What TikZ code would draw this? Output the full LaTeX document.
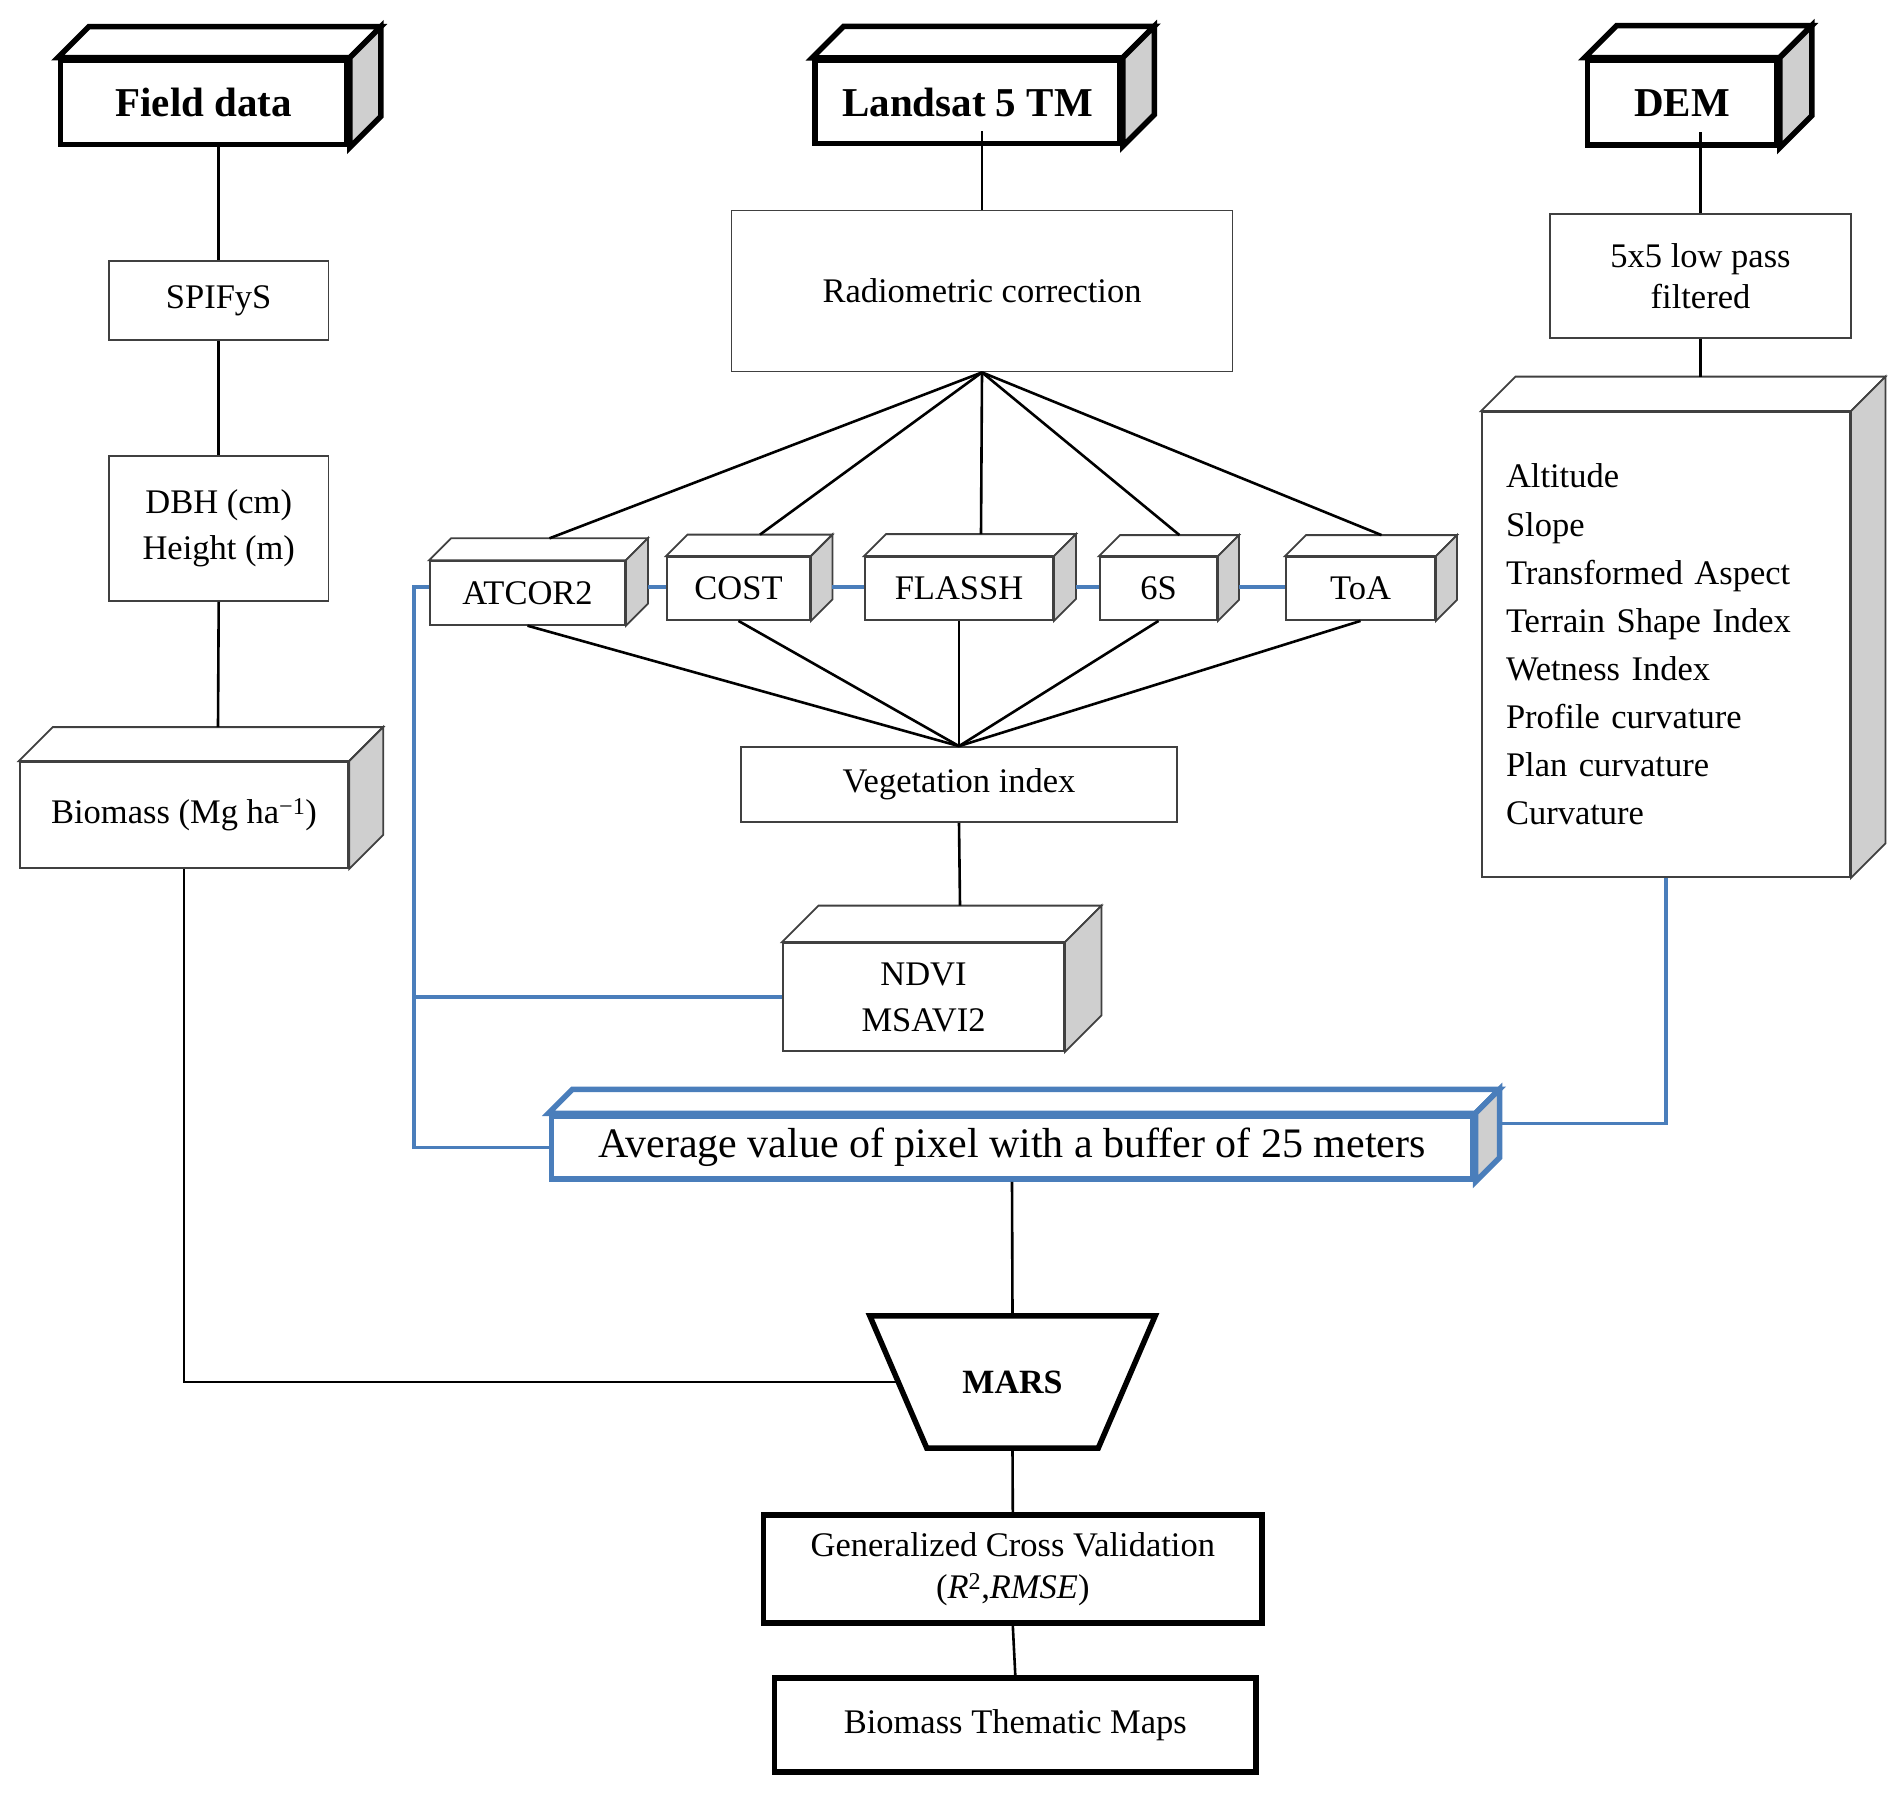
\documentclass[tikz,border=0pt]{standalone}
\usepackage{fontspec}
\setmainfont{Liberation Serif}
\usetikzlibrary{calc}
\definecolor{sideg}{HTML}{CFCFCF}
\definecolor{bl}{HTML}{4A7EBB}
\definecolor{bordg}{HTML}{404040}
\tikzset{
  thinline/.style={draw=bordg, line width=1.8pt},
  thickline/.style={draw=black, line width=5.5pt},
  blueline/.style={draw=bl, line width=5.5pt},
  thin box/.style={thinline, fill=white, inner sep=0pt, align=center, font=\fontsize{34.5}{46}\selectfont},
  thick box/.style={thickline, fill=white, inner sep=0pt, align=center, font=\fontsize{41}{48}\selectfont\bfseries},
  conn/.style={draw=black, line width=2.6pt},
  blueconn/.style={draw=bl, line width=3.6pt},
}
\newcommand{\cubefaces}[3]{%
  \draw[#3, fill=white] (#1.north west) -- ++(#2,-#2) -- ([shift={(#2,-#2)}]#1.north east) -- (#1.north east) -- cycle;
  \draw[#3, fill=sideg] (#1.north east) -- ([shift={(#2,-#2)}]#1.north east) -- ([shift={(#2,-#2)}]#1.south east) -- (#1.south east) -- cycle;
  \coordinate (#1top) at ([shift={(#2,-#2)}]#1.north);
  \coordinate (#1back) at ([shift={(#2,-#2)}]#1.east);
}
\begin{document}
\begin{tikzpicture}[x=1pt, y=-1pt]
\useasboundingbox (0,0) rectangle (1901,1797);
\fill[white] (0,0) rectangle (1901,1797);

% headers
\node[thick box, minimum width=286.5pt, minimum height=84.3pt] (field) at (203.8,102.5) {Field data};
\cubefaces{field}{31}{thickline}
\node[thick box, minimum width=305pt, minimum height=83pt] (landsat) at (967.5,102) {Landsat 5 TM};
\cubefaces{landsat}{31.5}{thickline}
\node[thick box, minimum width=189.6pt, minimum height=84.7pt] (dem) at (1682.2,102.7) {DEM};
\cubefaces{dem}{32}{thickline}

% left column
\node[thin box, minimum width=219.5pt, minimum height=79pt] (spify) at (218.7,300.5) {SPIFyS};
\node[thin box, minimum width=219.5pt, minimum height=145pt] (dbh) at (218.7,528.5) {DBH (cm)\\Height (m)};
\node[thin box, minimum width=328.5pt, minimum height=106pt] (bio) at (184,815) {Biomass (Mg ha\textsuperscript{−1})};
\cubefaces{bio}{34}{thinline}

% middle column
\node[thin box, minimum width=501pt, minimum height=161pt] (radio) at (982,291) {Radiometric correction};
\node[thin box, minimum width=195pt, minimum height=63.6pt] (atcor) at (527.5,593) {ATCOR2};
\cubefaces{atcor}{22}{thinline}
\node[thin box, minimum width=143pt, minimum height=63pt] (cost) at (738.5,588.5) {COST};
\cubefaces{cost}{21.5}{thinline}
\node[thin box, minimum width=188pt, minimum height=63pt] (flassh) at (959,588.5) {FLASSH};
\cubefaces{flassh}{22}{thinline}
\node[thin box, minimum width=117pt, minimum height=63pt] (six) at (1158.5,588.5) {6S};
\cubefaces{six}{21}{thinline}
\node[thin box, minimum width=149pt, minimum height=63pt] (toa) at (1360.5,588.5) {ToA};
\cubefaces{toa}{21}{thinline}
\node[thin box, minimum width=436.5pt, minimum height=75pt] (veg) at (959,784.5) {Vegetation index};
\node[thin box, minimum width=281pt, minimum height=108pt] (ndvi) at (923.5,997) {NDVI\\MSAVI2};
\cubefaces{ndvi}{36.5}{thinline}

% right column
\node[thin box, minimum width=301pt, minimum height=123.5pt, font=\fontsize{34.5}{41}\selectfont] (filt) at (1700.5,276) {5x5 low pass\\filtered};
\node[thin box, minimum width=368pt, minimum height=465pt, align=left, text width=320pt, font=\fontsize{34.5}{48.1}\selectfont] (attr) at (1666,644.5) {Altitude\\Slope\\Transformed Aspect\\Terrain Shape Index\\Wetness Index\\Profile curvature\\Plan curvature\\Curvature};
\cubefaces{attr}{34.5}{thinline}

% bottom
\node[blueline, fill=white, inner sep=0pt, minimum width=921.5pt, minimum height=63pt, font=\fontsize{42}{48}\selectfont] (avg) at (1012,1147.5) {Average value of pixel with a buffer of 25 meters};
\cubefaces{avg}{24}{blueline}
\node[inner sep=0pt, minimum width=285pt, minimum height=132pt] (mars) at (1012.5,1382) {};
\draw[thickline, fill=white] (mars.north west) -- (mars.north east) -- ([xshift=-57pt]mars.south east) -- ([xshift=57pt]mars.south west) -- cycle;
\node[font=\fontsize{34}{40}\selectfont\bfseries] (marstext) at (mars.center) {MARS};
\coordinate (marsL) at ([xshift=28.5pt]mars.west);
\node[thick box, minimum width=498.5pt, minimum height=108pt, font=\fontsize{34.5}{41.5}\selectfont] (gcv) at (1012.8,1569) {Generalized Cross Validation\\(\textit{R}\textsuperscript{2},\textit{RMSE})};
\node[thick box, minimum width=481.5pt, minimum height=94pt, font=\fontsize{34.5}{41.5}\selectfont] (btm) at (1015.3,1725) {Biomass Thematic Maps};

% black connectors
\draw[conn] (spify.north) -- (spify.north |- field.south);
\draw[conn] (spify.south) -- (dbh.north);
\draw[conn] (dbh.south) -- (biotop);
\draw[conn] (bio.south) |- (marsL);
\coordinate (lsin) at (982,131);
\draw[conn] (radio.north) -- (lsin);
\foreach \n in {atcor,cost,flassh,six,toa}{
  \draw[conn] (radio.south) -- (\n top);
  \draw[conn] (\n.south) -- (veg.north);
}
\draw[conn] (veg.south) -- (ndvitop);
\coordinate (demin) at (1700.5,132);
\draw[conn] (filt.north) -- (demin);
\draw[conn] (filt.south) -- (attrtop);
\draw[conn] (avg.south) -- (mars.north);
\draw[conn] (mars.south) -- (gcv.north);
\draw[conn] (gcv.south) -- (btm.north);

% blue connectors
\coordinate (bltop) at (414,587);
\coordinate (blbot) at (414,1147.5);
\draw[blueconn] (atcor.west |- bltop) -- (bltop) -- (blbot) -- (avg.west);
\draw[blueconn] (ndvi.west) -- (ndvi.west -| bltop);
\coordinate (atcorR) at ([xshift=22pt]atcor.east);
\coordinate (costR) at ([xshift=21.5pt]cost.east);
\coordinate (flasshR) at ([xshift=22pt]flassh.east);
\coordinate (sixR) at ([xshift=21pt]six.east);
\draw[blueconn] (atcorR |- bltop) -- (cost.west |- bltop);
\draw[blueconn] (costR |- bltop) -- (flassh.west |- bltop);
\draw[blueconn] (flasshR |- bltop) -- (six.west |- bltop);
\draw[blueconn] (sixR |- bltop) -- (toa.west |- bltop);
\draw[blueconn] (attr.south) |- (avgback);
\end{tikzpicture}
\end{document}
